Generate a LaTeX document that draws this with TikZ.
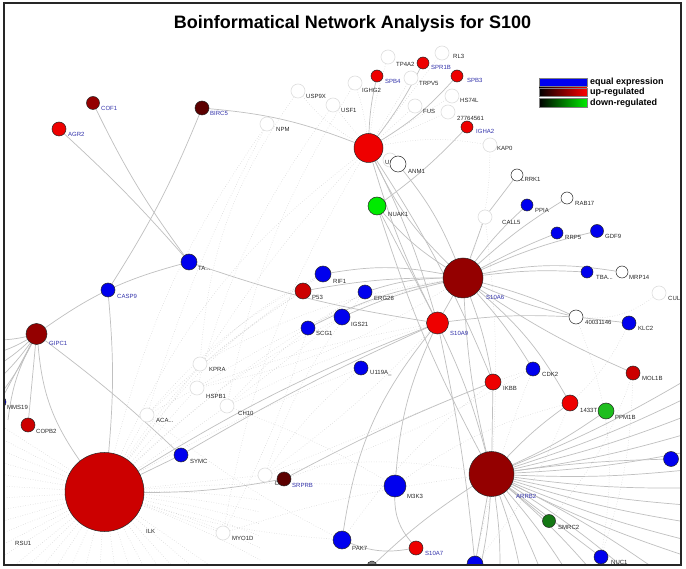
\documentclass[tikz,border=0pt]{standalone}
\usepackage{fontspec}
\setmainfont{Liberation Sans}
\usetikzlibrary{backgrounds}
\definecolor{redA}{RGB}{238,0,0}
\definecolor{redB}{RGB}{204,0,0}
\definecolor{redC}{RGB}{148,0,0}
\definecolor{redD}{RGB}{92,0,0}
\definecolor{blueN}{RGB}{0,0,238}
\definecolor{greenA}{RGB}{0,235,0}
\definecolor{greenB}{RGB}{30,190,30}
\definecolor{greenC}{RGB}{20,120,20}
\definecolor{edgeC}{RGB}{192,192,192}
\definecolor{dotC}{RGB}{205,205,205}
\definecolor{ghostC}{RGB}{222,222,222}
\definecolor{lblK}{RGB}{40,40,40}
\definecolor{lblB}{RGB}{50,50,170}
\begin{document}
\begin{tikzpicture}[x=1pt,y=-1pt,
  nd/.style={circle,draw=black!85,line width=0.5pt,inner sep=0pt,minimum size=#1},
  gh/.style={circle,draw=ghostC,fill=white,line width=0.6pt,inner sep=0pt,minimum size=14pt},
  lbl/.style={anchor=west,inner sep=0pt,font=\fontsize{6}{7}\selectfont,text=lblK},
  lblb/.style={lbl,text=lblB},
  lnk/.style={draw=edgeC,line width=0.7pt},
  dotl/.style={draw=dotC,line width=0.5pt,dotted},
  legtxt/.style={anchor=west,inner sep=0pt,font=\fontsize{9}{10}\selectfont\bfseries}
]
\useasboundingbox (0,0) rectangle (686,569);

\begin{scope}
\clip (3,3) rectangle (681,565);
% ghost nodes
\node[gh] (gusp9x) at (298,91) {};
\node[gh] (gusf1) at (333,105) {};
\node[gh] (gnpm) at (267,124) {};
\node[gh] (gighg2) at (355,83) {};
\node[gh] (gtrpv5) at (411,78) {};
\node[gh] (gtp4a2) at (388,57) {};
\node[gh] (grl3) at (442,53) {};
\node[gh] (gfus) at (415,106) {};
\node[gh] (ghs74l) at (452,96) {};
\node[gh] (g2776) at (448,112) {};
\node[gh] (gkap0) at (490,145) {};
\node[gh] (gcall5) at (485,217) {};
\node[gh] (gcul) at (659,293) {};
\node[gh] (gkpra) at (200,364) {};
\node[gh] (ghspb1) at (197,388) {};
\node[gh] (gch10) at (227,406) {};
\node[gh] (gaca) at (147,415) {};
\node[gh] (gd) at (265,475) {};
\node[gh] (gmyo1d) at (223,533) {};
\node[gh] (gusp) at (390,160) {};

% labels
\node[lblb] (l-cof1) at (101,108) {COF1};
\node[lblb] (l-agr2) at (68,134) {AGR2};
\node[lblb] (l-birc5) at (210,113) {BIRC5};
\node[lblb] (l-spb4) at (385,81) {SPB4};
\node[lblb] (l-spr1b) at (431,67) {SPR1B};
\node[lbl] (l-tp4a2) at (396,64) {TP4A2};
\node[lbl] (l-trpv5) at (419,83) {TRPV5};
\node[lbl] (l-ighg2) at (362,90) {IGHG2};
\node[lbl] (l-usp9x) at (306,96) {USP9X};
\node[lbl] (l-usf1) at (341,110) {USF1};
\node[lbl] (l-npm) at (276,129) {NPM};
\node[lbl] (l-fus) at (423,111) {FUS};
\node[lbl] (l-2776) at (457,118) {27764561};
\node[lbl] (l-rl3) at (453,56) {RL3};
\node[lblb] (l-spb3) at (467,80) {SPB3};
\node[lbl] (l-hs74l) at (460,100) {HS74L};
\node[lblb] (l-igha2) at (476,131) {IGHA2};
\node[lbl] (l-kap0) at (497,148) {KAP0};
\node[lbl] (l-u) at (385,162) {US};
\node[lbl] (l-anm1) at (408,171) {ANM1};
\node[lbl] (l-nuak1) at (388,214) {NUAK1};
\node[lbl] (l-lrrk1) at (521,179) {LRRK1};
\node[lbl] (l-rab17) at (575,203) {RAB17};
\node[lbl] (l-ppia) at (535,210) {PPIA};
\node[lbl] (l-call5) at (502,222) {CALL5};
\node[lbl] (l-rrp5) at (565,237) {RRP5};
\node[lbl] (l-gdf9) at (605,236) {GDF9};
\node[lbl] (l-tba) at (596,277) {TBA...};
\node[lbl] (l-mrp14) at (629,277) {MRP14};
\node[lbl] (l-cul) at (668,298) {CUL};
\node[lblb] (l-s10a6) at (486,297) {S10A6};
\node[lbl] (l-4003) at (585,322) {40031146};
\node[lbl] (l-klc2) at (638,328) {KLC2};
\node[lblb] (l-s10a9) at (450,333) {S10A9};
\node[lbl] (l-cdk2) at (542,374) {CDK2};
\node[lbl] (l-mol1b) at (642,378) {MOL1B};
\node[lbl] (l-ikbb) at (503,388) {IKBB};
\node[lbl] (l-1433) at (580,410) {1433T};
\node[lbl] (l-ppm1b) at (615,417) {PPM1B};
\node[lblb] (l-arrb2) at (516,496) {ARRB2};
\node[lbl] (l-smrc2) at (558,527) {SMRC2};
\node[lbl] (l-nuc1) at (611,562) {NUC1};
\node[lbl] (l-rif1) at (333,281) {RIF1};
\node[lbl] (l-p53) at (312,297) {P53};
\node[lbl] (l-erg28) at (374,298) {ERG28};
\node[lbl] (l-igs21) at (351,324) {IGS21};
\node[lbl] (l-scg1) at (316,333) {SCG1};
\node[lbl] (l-u119) at (370,373) {U119A\_};
\node[lbl] (l-ta) at (198,268) {TA...};
\node[lblb] (l-casp9) at (117,296) {CASP9};
\node[lblb] (l-gipc1) at (49,343) {GIPC1};
\node[lbl] (l-kpra) at (209,369) {KPRA};
\node[lbl] (l-hspb1) at (206,396) {HSPB1};
\node[lbl] (l-ch10) at (238,413) {CH10};
\node[lbl] (l-aca) at (156,420) {ACA...};
\node[lbl] (l-mms19) at (7,407) {MMS19};
\node[lbl] (l-copb2) at (36,431) {COPB2};
\node[lbl] (l-symc) at (190,461) {SYMC};
\node[lbl] (l-ilk) at (146,531) {ILK};
\node[lbl] (l-rsu1) at (15,543) {RSU1};
\node[lbl] (l-d) at (275,483) {DI};
\node[lblb] (l-srprb) at (292,485) {SRPRB};
\node[lbl] (l-m3k3) at (407,496) {M3K3};
\node[lbl] (l-myo1d) at (232,538) {MYO1D};
\node[lbl] (l-pak7) at (352,548) {PAK7};
\node[lblb] (l-s10a7) at (425,553) {S10A7};

% coloured nodes
\node[nd=13pt,fill=redC] (cof1) at (93,103) {};
\node[nd=14pt,fill=redA] (agr2) at (59,129) {};
\node[nd=14pt,fill=redD] (birc5) at (202,108) {};
\node[nd=29pt,fill=redA] (hub) at (368.5,148) {};
\node[nd=16pt,fill=white] (anm1) at (398,164) {};
\node[nd=18pt,fill=greenA] (nuak1) at (377,206) {};
\node[nd=12pt,fill=redA] (spb4) at (377,76) {};
\node[nd=12pt,fill=redA] (spr1b) at (423,63) {};
\node[nd=12pt,fill=redA] (spb3) at (457,76) {};
\node[nd=12pt,fill=redA] (igha2) at (467,127) {};
\node[nd=12pt,fill=white] (lrrk1) at (517,175) {};
\node[nd=12pt,fill=white] (rab17) at (567,198) {};
\node[nd=12pt,fill=blueN] (ppia) at (527,205) {};
\node[nd=12pt,fill=blueN] (rrp5) at (557,233) {};
\node[nd=13pt,fill=blueN] (gdf9) at (597,231) {};
\node[nd=40pt,fill=redC] (s10a6) at (463,278) {};
\node[nd=12pt,fill=blueN] (tba) at (587,272) {};
\node[nd=12pt,fill=white] (mrp14) at (622,272) {};
\node[nd=14pt,fill=white] (n4003) at (576,317) {};
\node[nd=14pt,fill=blueN] (klc2) at (629,323) {};
\node[nd=14pt,fill=blueN] (cdk2) at (533,369) {};
\node[nd=14pt,fill=redB] (mol1b) at (633,373) {};
\node[nd=16pt,fill=redA] (ikbb) at (493,382) {};
\node[nd=16pt,fill=redA] (t1433) at (570,403) {};
\node[nd=16pt,fill=greenB] (ppm1b) at (606,411) {};
\node[nd=45pt,fill=redC] (arrb2) at (491.5,474) {};
\node[nd=15pt,fill=blueN] (bluer) at (671,459) {};
\node[nd=13pt,fill=greenC] (smrc2) at (549,521) {};
\node[nd=14pt,fill=blueN] (nuc1) at (601,557) {};
\node[nd=16pt,fill=blueN] (blueb) at (475,564) {};
\node[nd=14pt,fill=redD] (srprb) at (284,479) {};
\node[nd=22pt,fill=blueN] (m3k3) at (395,486) {};
\node[nd=18pt,fill=blueN] (pak7) at (342,540) {};
\node[nd=14pt,fill=redA] (s10a7) at (416,548) {};
\node[nd=10pt,fill=gray] (grayb) at (372,566) {};
\node[nd=79pt,fill=redB] (bigred) at (104.5,492) {};
\node[nd=12pt,fill=blueN] (mms19) at (0,402) {};
\node[nd=14pt,fill=redB] (copb2) at (28,425) {};
\node[nd=14pt,fill=blueN] (symc) at (181,455) {};
\node[nd=16pt,fill=blueN] (ta) at (189,262) {};
\node[nd=14pt,fill=blueN] (casp9) at (108,290) {};
\node[nd=21pt,fill=redC] (gipc1) at (36.5,334) {};
\node[nd=16pt,fill=blueN] (rif1) at (323,274) {};
\node[nd=16pt,fill=redB] (p53) at (303,291) {};
\node[nd=14pt,fill=blueN] (erg28) at (365,292) {};
\node[nd=16pt,fill=blueN] (igs21) at (342,317) {};
\node[nd=14pt,fill=blueN] (scg1) at (308,328) {};
\node[nd=22pt,fill=redA] (s10a9) at (437.5,323) {};
\node[nd=14pt,fill=blueN] (u119) at (361,368) {};
\end{scope}

% edges on background
\begin{scope}[on background layer]
\fill[white] (0,0) rectangle (686,569);
\clip (3,3) rectangle (681,565);
% dotted web
\draw[dotl] (gusp9x) to[bend right=10] (hub);
\draw[dotl] (gusf1) -- (hub);
\draw[dotl] (gighg2) to[bend left=5] (hub);
\draw[dotl] (gtrpv5) -- (hub);
\draw[dotl] (gtp4a2) to[bend right=5] (hub);
\draw[dotl] (grl3) -- (hub);
\draw[dotl] (gfus) -- (hub);
\draw[dotl] (ghs74l) -- (hub);
\draw[dotl] (g2776) -- (hub);
\draw[dotl] (gkap0) to[bend left=10] (s10a6);
\draw[dotl] (gkap0) to[bend right=10] (hub);
\draw[dotl] (gnpm) to[bend right=5] (gaca);
\draw[dotl] (gusp9x) to[bend right=15] (gkpra);
\draw[dotl] (gusf1) to[bend right=10] (ghspb1);
\draw[dotl] (gighg2) to[bend right=10] (gch10);
\draw[dotl] (gkpra) to[bend left=10] (s10a6);
\draw[dotl] (ghspb1) to[bend left=10] (s10a6);
\draw[dotl] (ghspb1) to[bend left=5] (s10a9);
\draw[dotl] (gch10) to[bend left=8] (erg28);
\draw[dotl] (gch10) to[bend left=5] (s10a9);
\draw[dotl] (gch10) -- (igs21);
\draw[dotl] (gaca) to[bend left=10] (rif1);
\draw[dotl] (gaca) -- (ghspb1);
\draw[dotl] (gkpra) to[bend left=5] (hub);
\draw[dotl] (gd) to[bend right=5] (s10a9);
\draw[dotl] (gd) -- (ikbb);
\draw[dotl] (gd) to[bend left=10] (arrb2);
\draw[dotl] (gmyo1d) to[bend left=5] (arrb2);
\draw[dotl] (gmyo1d) -- (bigred);
\draw[dotl] (gd) -- (bigred);
\draw[dotl] (gch10) -- (bigred);
\draw[dotl] (ghspb1) -- (bigred);
\draw[dotl] (gkpra) -- (bigred);
\draw[dotl] (gaca) -- (bigred);
\draw[dotl] (gcul) to[bend left=20] (n4003);
\draw[dotl] (klc2) to[bend left=10] (t1433);
\draw[dotl] (cdk2) -- (ikbb);
\draw[dotl] (cdk2) to[bend left=5] (srprb);
\draw[dotl] (gcall5) to[bend left=5] (arrb2);
\draw[dotl] (n4003) to[bend left=15] (nuc1);
\draw[dotl] (mol1b) to[bend left=10] (smrc2);
\draw[dotl] (t1433) to[bend left=8] (blueb);
\draw[dotl] (cdk2) to[bend right=5] (blueb);
\draw[dotl] (u119) to[bend right=8] (gd);
\draw[dotl] (rif1) to[bend right=10] (gkpra);
\draw[dotl] (p53) to[bend right=5] (gaca);
\draw[dotl] (scg1) to[bend left=5] (gmyo1d);
\draw[dotl] (erg28) to[bend right=10] (gd);
\draw[dotl] (m3k3) to[bend right=5] (gch10);
\draw[dotl] (pak7) to[bend left=5] (gaca);
\draw[dotl] (hub) to[bend right=10] (gmyo1d);
\draw[dotl] (s10a6) to[bend left=10] (ghspb1);
\draw[dotl] (bigred) to[bend left=10] (rif1);
\draw[dotl] (bigred) to[bend left=6] (erg28);
\draw[dotl] (bigred) to[bend left=4] (u119);
\draw[dotl] (bigred) to[bend left=8] (igs21);
\draw[dotl] (bigred) to[bend left=12] (p53);
\draw[dotl] (bigred) to[bend left=3] (m3k3);
\draw[dotl] (bigred) to[bend right=6] (pak7);
\draw[dotl] (bigred) to[bend left=14] (hub);
\draw[dotl] (gnpm) to[bend right=10] (bigred);
\draw[dotl] (m3k3) to[bend left=10] (t1433);
\draw[dotl] (pak7) to[bend left=8] (ikbb);
\draw[dotl] (mol1b) to[bend left=8] (nuc1);
\foreach \yy [count=\i] in {425,438,450,462,474,486,498,510,522,534,546,558} {
  \coordinate (bl\i) at (0,\yy);
  \draw[dotl] (bigred) -- (bl\i);
}
\foreach \xx [count=\i] in {10,25,40,55,70,85,100,115,130,145,160,175,195,215} {
  \coordinate (bb\i) at (\xx,569);
  \draw[dotl] (bigred) -- (bb\i);
}
\foreach \yy [count=\i] in {500,512,524,536,548,560} {
  \coordinate (br\i) at (260,\yy);
  \draw[dotl] (bigred) to[bend left=4] (br\i);
}
% solid links
\draw[lnk] (agr2) to[bend left=3] (ta);
\draw[lnk] (cof1) to[bend right=5] (ta);
\draw[lnk] (birc5) to[bend left=5] (casp9);
\draw[lnk] (birc5) to[bend left=8] (hub);
\draw[lnk] (casp9) to[bend left=5] (bigred);
\draw[lnk] (gipc1) to[bend left=10] (ta);
\draw[lnk] (ta) to[bend right=5] (s10a9);
\draw[lnk] (gipc1) to[bend left=3] (symc);
\draw[lnk] (gipc1) to[bend right=15] (bigred);
\draw[lnk] (gipc1) -- (copb2);
\draw[lnk] (gipc1) -- (mms19);
\foreach \yy [count=\i] in {340,352,364,378,395} {
  \coordinate (gl\i) at (0,\yy);
  \draw[lnk] (gipc1) to[bend left=5] (gl\i);
}
\coordinate (gd1) at (8,420);
\draw[lnk] (gipc1) to[bend right=10] (gd1);
\draw[lnk] (symc) to[bend left=3] (s10a9);
\draw[lnk] (bigred) -- (symc);
\draw[lnk] (bigred) to[bend left=5] (s10a9);
\draw[lnk] (bigred) to[bend right=5] (srprb);
\draw[lnk] (srprb) to[bend left=3] (ikbb);
\draw[lnk] (hub) to[bend left=5] (spb4);
\draw[lnk] (hub) to[bend right=5] (spr1b);
\draw[lnk] (hub) to[bend right=8] (spb3);
\draw[lnk] (nuak1) to[bend right=5] (igha2);
\draw[lnk] (hub) to[bend left=5] (s10a9);
\draw[lnk] (hub) to[bend right=5] (s10a9);
\draw[lnk] (hub) to[bend right=10] (s10a6);
\draw[lnk] (hub) to[bend left=5] (ikbb);
\draw[lnk] (anm1) to[bend left=8] (s10a6);
\draw[lnk] (nuak1) -- (s10a9);
\draw[lnk] (nuak1) to[bend right=8] (s10a6);
\draw[lnk] (nuak1) to[bend right=5] (arrb2);
\draw[lnk] (s10a6) to[bend right=10] (rif1);
\draw[lnk] (s10a6) to[bend right=5] (p53);
\draw[lnk] (s10a6) to[bend right=8] (erg28);
\draw[lnk] (s10a6) to[bend right=5] (igs21);
\draw[lnk] (s10a6) to[bend right=8] (scg1);
\draw[lnk] (s10a6) to[bend left=5] (tba);
\draw[lnk] (s10a6) to[bend left=10] (mrp14);
\draw[lnk] (s10a6) to[bend left=3] (rrp5);
\draw[lnk] (s10a6) to[bend left=5] (gdf9);
\draw[lnk] (s10a6) to[bend left=5] (ppia);
\draw[lnk] (s10a6) to[bend left=5] (rab17);
\draw[lnk] (s10a6) -- (gcall5);
\draw[lnk] (gcall5) -- (lrrk1);
\draw[lnk] (s10a6) to[bend left=5] (n4003);
\draw[lnk] (s10a6) to[bend right=5] (n4003);
\draw[lnk] (n4003) -- (klc2);
\draw[lnk] (s10a6) to[bend right=5] (mol1b);
\draw[lnk] (s10a6) to[bend left=5] (cdk2);
\draw[lnk] (s10a6) to[bend left=5] (ikbb);
\draw[lnk] (s10a6) to[bend right=5] (arrb2);
\draw[lnk] (s10a6) to[bend left=10] (t1433);
\draw[lnk] (s10a9) -- (s10a6);
\draw[lnk] (s10a9) to[bend left=5] (n4003);
\draw[lnk] (s10a9) to[bend right=10] (m3k3);
\draw[lnk] (s10a9) to[bend right=15] (pak7);
\draw[lnk] (s10a9) to[bend left=5] (arrb2);
\draw[lnk] (s10a9) to[bend left=3] (blueb);
\draw[lnk] (m3k3) to[bend right=20] (s10a7);
\draw[lnk] (pak7) to[bend right=15] (s10a7);
\draw[lnk] (grayb) to[bend left=5] (arrb2);
\draw[lnk] (arrb2) to[bend left=5] (t1433);
\draw[lnk] (arrb2) to[bend right=5] (ppm1b);
\draw[lnk] (arrb2) -- (smrc2);
\draw[lnk] (arrb2) -- (nuc1);
\draw[lnk] (arrb2) -- (blueb);
\draw[lnk] (arrb2) to[bend left=3] (bluer);
\draw[lnk] (ikbb) -- (arrb2);
\foreach \yy [count=\i] in {380,398,416,434,452,470,488,505,522,540,556} {
  \coordinate (ar\i) at (686,\yy);
  \draw[lnk] (arrb2) to[bend right=4] (ar\i);
}
\foreach \xx [count=\i] in {480,500,520,540,565,590,625,655} {
  \coordinate (ab\i) at (\xx,569);
  \draw[lnk] (arrb2) to[bend left=4] (ab\i);
}
\end{scope}

% title
\node[font=\fontsize{18}{20}\selectfont\bfseries] (title) at (352.5,24) {Boinformatical Network Analysis for S100};

% legend
\fill[blueN] (539,78) rectangle (587,86.5);
\shade[left color=black,right color=red] (539,88) rectangle (587,96.5);
\shade[left color=black,right color=greenA] (539,98.5) rectangle (587,107);
\draw[gray,line width=0.4pt] (539,78) rectangle (587,86.5);
\draw[gray,line width=0.4pt] (539,88) rectangle (587,96.5);
\draw[gray,line width=0.4pt] (539,98.5) rectangle (587,107);
\node[legtxt] (leg1) at (590,82.3) {equal expression};
\node[legtxt] (leg2) at (590,92.3) {up-regulated};
\node[legtxt] (leg3) at (590,102.8) {down-regulated};

% frame
\draw[line width=2pt,black!85] (3.5,3) rectangle (681,564.5);
\end{tikzpicture}
\end{document}
